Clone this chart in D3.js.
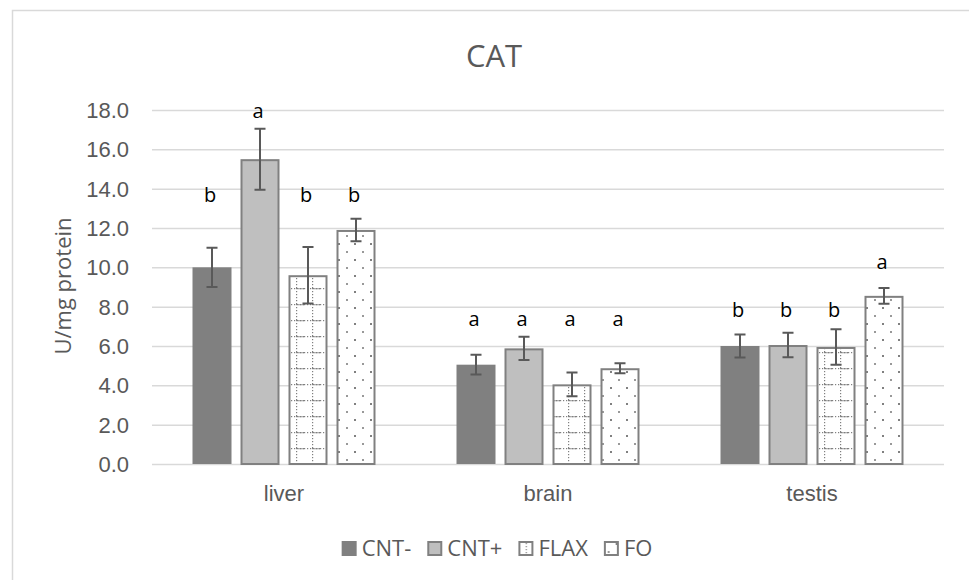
<!DOCTYPE html>
<html>
<head>
<meta charset="utf-8">
<script src="https://cdn.jsdelivr.net/npm/d3@7/dist/d3.min.js"></script>
<style>
  html, body { margin: 0; padding: 0; background: #fff; }
  svg { display: block; font-family: "Open Sans", "Liberation Sans", sans-serif; }
</style>
</head>
<body>
<svg id="chart" width="969" height="580"></svg>
<script>
// ---- data ----
const categories = ["liver", "brain", "testis"];
const seriesNames = ["CNT-", "CNT+", "FLAX", "FO"];
const meanCNTminus = [10.0, 5.05, 6.0];
const meanCNTplus  = [15.5, 5.88, 6.05];
const meanFLAX     = [9.6, 4.05, 5.95];
const meanFO       = [11.9, 4.87, 8.55];
const errCNTminus  = [1.0, 0.5, 0.58];
const errCNTplus   = [1.55, 0.59, 0.62];
const errFLAX      = [1.44, 0.6, 0.9];
const errFO        = [0.57, 0.25, 0.4];
const letterCNTminus = ["b", "a", "b"];
const letterCNTplus  = ["a", "a", "b"];
const letterFLAX     = ["b", "a", "b"];
const letterFO       = ["b", "a", "a"];
// height (in U/mg protein) at which each significance letter sits
const letterAtCNTminus = [13.3, 7.0, 7.5];
const letterAtCNTplus  = [17.6, 7.0, 7.5];
const letterAtFLAX     = [13.3, 7.0, 7.5];
const letterAtFO       = [13.3, 7.0, 9.9];
const yTicks = [0, 2, 4, 6, 8, 10, 12, 14, 16, 18];

const means = [meanCNTminus, meanCNTplus, meanFLAX, meanFO];
const errs = [errCNTminus, errCNTplus, errFLAX, errFO];
const letters = [letterCNTminus, letterCNTplus, letterFLAX, letterFO];
const letterAt = [letterAtCNTminus, letterAtCNTplus, letterAtFLAX, letterAtFO];

const rows = [];
categories.forEach((c, ci) => {
  seriesNames.forEach((s, si) => {
    rows.push({cat: c, ser: s, si, value: means[si][ci], err: errs[si][ci],
               letter: letters[si][ci], letterY: letterAt[si][ci]});
  });
});

// ---- layout ----
const svg = d3.select("#chart");
const plot = {left: 152, right: 944, top: 110, bottom: 464};
const grey = "#808080";
const textGrey = "#595959";
const fs = 22;

// chart border
svg.append("rect").attr("x", 12.5).attr("y", 10.5).attr("width", 1000).attr("height", 1000)
  .attr("fill", "#fff").attr("stroke", "#d9d9d9").attr("stroke-width", 1.5);

// patterns
const defs = svg.append("defs");
const pFlax = defs.append("pattern").attr("id", "pFlax").attr("patternUnits", "userSpaceOnUse")
  .attr("width", 16).attr("height", 16);
pFlax.append("rect").attr("width", 16).attr("height", 16).attr("fill", "#fff");
for (let i = 0; i < 16; i += 3) {
  pFlax.append("rect").attr("x", i).attr("y", 0).attr("width", 1.2).attr("height", 1.2).attr("fill", grey);
  pFlax.append("rect").attr("x", 8).attr("y", i).attr("width", 1.2).attr("height", 1.2).attr("fill", grey);
}
pFlax.append("rect").attr("x", 10).attr("y", 0).attr("width", 6).attr("height", 1.3).attr("fill", grey).attr("opacity", 0.6);

const pFo = defs.append("pattern").attr("id", "pFo").attr("patternUnits", "userSpaceOnUse")
  .attr("width", 16).attr("height", 16);
pFo.append("rect").attr("width", 16).attr("height", 16).attr("fill", "#fff");
pFo.append("rect").attr("x", 2).attr("y", 3).attr("width", 2).attr("height", 2).attr("fill", grey);
pFo.append("rect").attr("x", 10).attr("y", 11).attr("width", 2).attr("height", 2).attr("fill", "#999");

const fills = ["#808080", "#bfbfbf", "url(#pFlax)", "url(#pFo)"];

// scales
const x0 = d3.scaleBand().domain(categories).range([plot.left, plot.right]).padding(0);
const groupW = 183;
const x1 = d3.scaleBand().domain(seriesNames).range([0, groupW]).paddingInner(0.1875).paddingOuter(0);
const y = d3.scaleLinear().domain([0, 18]).range([plot.bottom, plot.top]);

// grid + y axis
const yAxis = d3.axisLeft(y).tickValues(yTicks).tickFormat(d3.format(".1f"))
  .tickSize(-(plot.right - plot.left)).tickPadding(23);
const gy = svg.append("g").attr("transform", `translate(${plot.left},0)`).call(yAxis);
gy.select(".domain").remove();
gy.selectAll(".tick line").attr("stroke", "#d9d9d9").attr("stroke-width", 1.5);
gy.selectAll(".tick text").attr("fill", textGrey).attr("font-size", fs).attr("dy", "0.34em");

// x axis labels
const xAxis = d3.axisBottom(x0).tickSize(0).tickPadding(21);
const gx = svg.append("g").attr("transform", `translate(0,${plot.bottom})`).call(xAxis);
gx.select(".domain").remove();
gx.selectAll(".tick text").attr("fill", textGrey).attr("font-size", fs);

// bars
const groupLeft = d => x0(d.cat) + (x0.bandwidth() - groupW) / 2;
svg.append("g").selectAll("rect").data(rows).join("rect")
  .attr("x", d => groupLeft(d) + x1(d.ser) + (d.si === 0 ? 0 : 1))
  .attr("y", d => y(d.value) + (d.si === 0 ? 0 : 1))
  .attr("width", d => x1.bandwidth() - (d.si === 0 ? 0 : 2))
  .attr("height", d => y(0) - y(d.value) - (d.si === 0 ? 0 : 1))
  .attr("fill", d => fills[d.si])
  .attr("stroke", d => d.si === 0 ? "none" : grey)
  .attr("stroke-width", 2);

// error bars
const eb = svg.append("g").attr("stroke", textGrey).attr("stroke-width", 2).attr("fill", "none");
const cx = d => groupLeft(d) + x1(d.ser) + x1.bandwidth() / 2;
eb.selectAll("path").data(rows).join("path")
  .attr("d", d => {
    const c = cx(d), t = y(d.value + d.err), b = y(d.value - d.err);
    return `M${c},${t}V${b}M${c - 5.5},${t}H${c + 5.5}M${c - 5.5},${b}H${c + 5.5}`;
  });

// letters
svg.append("g").selectAll("text").data(rows).join("text")
  .attr("x", d => cx(d) - 2)
  .attr("y", d => y(d.letterY))
  .attr("text-anchor", "middle")
  .attr("font-size", 20)
  .attr("fill", "#000")
  .text(d => d.letter);

// title
svg.append("text").attr("x", 494).attr("y", 67).attr("text-anchor", "middle")
  .attr("font-size", 31).attr("fill", textGrey).text("CAT");

// y axis title
svg.append("text").attr("transform", `translate(71,286) rotate(-90)`).attr("text-anchor", "middle")
  .attr("font-size", fs).attr("fill", textGrey).text("U/mg protein");

// legend
const lg = svg.append("g");
let lx = 0;
seriesNames.forEach((s, i) => {
  const g = lg.append("g");
  if (i === 0) {
    g.append("rect").attr("x", lx).attr("y", -15).attr("width", 15).attr("height", 15).attr("fill", fills[i]);
  } else {
    g.append("rect").attr("x", lx + 1).attr("y", -14).attr("width", 13).attr("height", 13)
      .attr("fill", fills[i]).attr("stroke", grey).attr("stroke-width", 2);
  }
  const t = g.append("text").attr("x", lx + 20).attr("y", 0).attr("font-size", fs).attr("fill", textGrey).text(s);
  const w = t.node().getComputedTextLength();
  lx += 20 + w + 16;
});
const totalW = lx - 16;
lg.attr("transform", `translate(${497 - totalW / 2},556)`);
</script>
</body>
</html>
